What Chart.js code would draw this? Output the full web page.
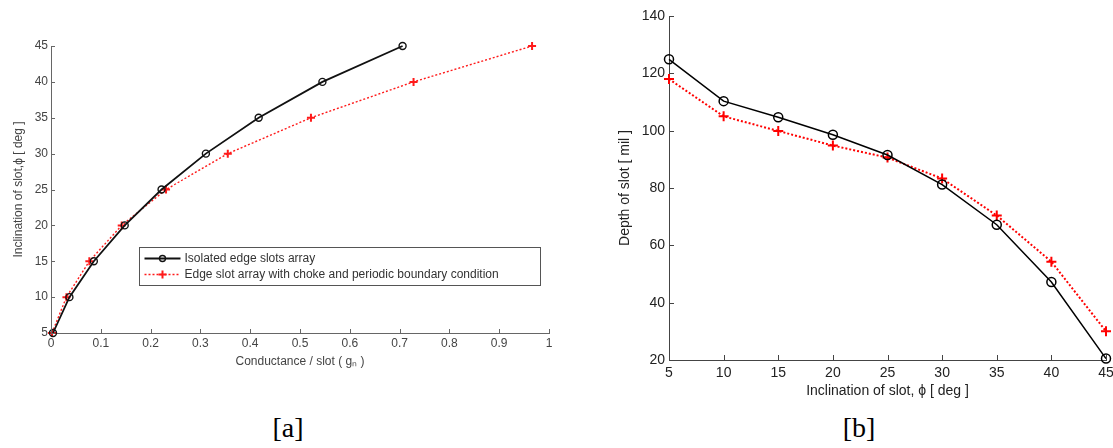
<!DOCTYPE html>
<html>
<head>
<meta charset="utf-8">
<script src="https://cdn.jsdelivr.net/npm/chart.js@4.4.1/dist/chart.umd.min.js"></script>
<style>
html, body { margin: 0; padding: 0; background: #fff; width: 1113px; height: 448px; overflow: hidden; }
#wrapA { position: absolute; left: 0; top: 0; width: 560px; height: 400px; }
#wrapB { position: absolute; left: 560px; top: 0; width: 553px; height: 400px; }
.cap { position: absolute; top: 414px; width: 60px; text-align: center; font-family: "Liberation Serif", "Times New Roman", serif; font-size: 28px; line-height: 28px; color: #000; }
</style>
</head>
<body>
<div id="wrapA"><canvas id="chartA" width="560" height="400"></canvas></div>
<div id="wrapB"><canvas id="chartB" width="553" height="400"></canvas></div>
<div class="cap" style="left:258px">[a]</div>
<div class="cap" style="left:829px">[b]</div>
<script>
// [a] conductance per slot vs inclination
var inclinationA = [5, 10, 15, 20, 25, 30, 35, 40, 45];
var conductanceIso = [0.004, 0.037, 0.086, 0.148, 0.222, 0.311, 0.417, 0.545, 0.706];
var conductanceChoke = [0.002, 0.031, 0.077, 0.142, 0.231, 0.355, 0.522, 0.728, 0.966];
var xTicksA = [0, 0.1, 0.2, 0.3, 0.4, 0.5, 0.6, 0.7, 0.8, 0.9, 1];
var yTicksA = [5, 10, 15, 20, 25, 30, 35, 40, 45];

// [b] depth of slot vs inclination
var inclinationB = [5, 10, 15, 20, 25, 30, 35, 40, 45];
var depthIso = [124.9, 110.3, 104.7, 98.6, 91.5, 81.2, 67.2, 47.2, 20.5];
var depthChoke = [118, 105, 99.9, 94.8, 90.6, 83.3, 70.4, 54.3, 30];
var xTicksB = [5, 10, 15, 20, 25, 30, 35, 40, 45];
var yTicksB = [20, 40, 60, 80, 100, 120, 140];

var labelIso = 'Isolated edge slots array';
var labelChoke = 'Edge slot array with choke and periodic boundary condition';

Chart.defaults.font.family = "'Liberation Sans', Arial, sans-serif";
Chart.defaults.animation = false;

function pts(xs, ys) {
    var out = [];
    for (var i = 0; i < xs.length; i++) out.push({x: xs[i], y: ys[i]});
    return out;
}

function setTicks(list) {
    return function(scale) {
        scale.ticks = list.map(function(v) { return {value: v}; });
    };
}

// MATLAB style ticks pointing into the plot
var inTicks = {
    id: 'inTicks',
    afterDraw: function(chart, args, opts) {
        var ctx = chart.ctx, a = chart.chartArea;
        var xs = chart.scales.x, ys = chart.scales.y;
        ctx.save();
        ctx.strokeStyle = opts.color;
        ctx.lineWidth = 1;
        ctx.beginPath();
        xs.ticks.forEach(function(t) {
            var p = Math.round(xs.getPixelForValue(t.value)) + 0.5;
            ctx.moveTo(p, a.bottom);
            ctx.lineTo(p, a.bottom - opts.len);
        });
        ys.ticks.forEach(function(t) {
            var p = Math.round(ys.getPixelForValue(t.value)) + 0.5;
            ctx.moveTo(a.left, p);
            ctx.lineTo(a.left + opts.len, p);
        });
        ctx.stroke();
        ctx.restore();
    }
};

// boxed legend inside chart [a]
var legendBox = {
    id: 'legendBox',
    afterDraw: function(chart) {
        if (chart.canvas.id !== 'chartA') return;
        var ctx = chart.ctx;
        var bx = 139.5, by = 247.5, bw = 401, bh = 38;
        ctx.save();
        ctx.strokeStyle = '#555';
        ctx.lineWidth = 1;
        ctx.strokeRect(bx, by, bw, bh);
        ctx.font = "12px 'Liberation Sans', Arial, sans-serif";
        ctx.textBaseline = 'middle';
        chart.data.datasets.forEach(function(ds, i) {
            var y = by + 11 + i * 16;
            ctx.strokeStyle = ds.borderColor;
            ctx.lineWidth = ds.borderWidth;
            ctx.setLineDash(ds.borderDash || []);
            ctx.beginPath();
            ctx.moveTo(bx + 5, y);
            ctx.lineTo(bx + 41, y);
            ctx.stroke();
            ctx.setLineDash([]);
            ctx.lineWidth = ds.pointBorderWidth;
            ctx.strokeStyle = ds.pointBorderColor;
            ctx.beginPath();
            if (ds.pointStyle === 'circle') {
                ctx.arc(bx + 23, y, 3, 0, Math.PI * 2);
            } else {
                ctx.moveTo(bx + 19, y); ctx.lineTo(bx + 27, y);
                ctx.moveTo(bx + 23, y - 4); ctx.lineTo(bx + 23, y + 4);
            }
            ctx.stroke();
            ctx.fillStyle = '#333';
            ctx.fillText(ds.label, bx + 45, y);
        });
        ctx.restore();
    }
};

function plainLabel(v) { return String(v); }

function axisX(min, max, list, title, o) {
    return {
        type: 'linear', min: min, max: max,
        afterBuildTicks: setTicks(list),
        afterFit: function(s) { s.height = o.h; s.paddingLeft = 0; s.paddingRight = 0; },
        grid: {display: false, drawTicks: false},
        border: {display: true, color: o.axis, width: 1},
        ticks: {color: o.text, padding: o.pad, font: {size: o.size}, maxRotation: 0, autoSkip: false, callback: plainLabel},
        title: {display: true, text: title, color: o.text, font: {size: o.size}, padding: {top: 0, bottom: o.tpad}}
    };
}

function axisY(min, max, list, title, o) {
    return {
        type: 'linear', min: min, max: max,
        afterBuildTicks: setTicks(list),
        afterFit: function(s) { s.width = o.w; s.paddingTop = 0; s.paddingBottom = 0; },
        grid: {display: false, drawTicks: false},
        border: {display: true, color: o.axis, width: 1},
        ticks: {color: o.text, padding: o.pad, font: {size: o.size}, autoSkip: false, callback: plainLabel},
        title: {display: true, text: title, color: o.text, font: {size: o.size}, padding: {top: o.tpad, bottom: 0}}
    };
}

new Chart(document.getElementById('chartA'), {
    type: 'scatter',
    data: {
        datasets: [{
            label: labelIso,
            data: pts(conductanceIso, inclinationA),
            showLine: true, tension: 0, clip: false,
            borderColor: '#111', borderWidth: 1.8,
            pointStyle: 'circle', pointRadius: 3.5, pointBorderWidth: 1.4,
            pointBorderColor: '#111', pointBackgroundColor: 'rgba(0,0,0,0)'
        }, {
            label: labelChoke,
            data: pts(conductanceChoke, inclinationA),
            showLine: true, tension: 0, clip: false,
            borderColor: '#ff1a1a', borderWidth: 1.4, borderDash: [2, 2],
            pointStyle: 'cross', pointRadius: 4, pointBorderWidth: 2,
            pointBorderColor: '#ff1a1a', pointBackgroundColor: '#ff1a1a'
        }]
    },
    options: {
        responsive: false,
        layout: {padding: {left: 0, top: 46, right: 11, bottom: 0}},
        plugins: {legend: {display: false}, tooltip: {enabled: false}, inTicks: {color: '#666', len: 4}},
        scales: {
            x: axisX(0, 1, xTicksA, 'Conductance / slot ( g\u2099 )', {h: 67, axis: '#666', text: '#444', pad: 3, size: 12, tpad: 31}),
            y: axisY(5, 45, yTicksA, 'Inclination of slot,\u03d5 [ deg ]', {w: 51, axis: '#666', text: '#444', pad: 3, size: 12, tpad: 11})
        }
    },
    plugins: [inTicks, legendBox]
});

new Chart(document.getElementById('chartB'), {
    type: 'scatter',
    data: {
        datasets: [{
            label: labelIso,
            data: pts(inclinationB, depthIso),
            showLine: true, tension: 0, clip: false,
            borderColor: '#000', borderWidth: 1.5,
            pointStyle: 'circle', pointRadius: 4.5, pointBorderWidth: 1.5,
            pointBorderColor: '#000', pointBackgroundColor: 'rgba(0,0,0,0)'
        }, {
            label: labelChoke,
            data: pts(inclinationB, depthChoke),
            showLine: true, tension: 0, clip: false,
            borderColor: '#ff0000', borderWidth: 2, borderDash: [2, 2],
            pointStyle: 'cross', pointRadius: 5, pointBorderWidth: 2,
            pointBorderColor: '#ff0000', pointBackgroundColor: '#ff0000'
        }]
    },
    options: {
        responsive: false,
        layout: {padding: {left: 0, top: 16, right: 6, bottom: 0}},
        plugins: {legend: {display: false}, tooltip: {enabled: false}, inTicks: {color: '#444', len: 5}},
        scales: {
            x: axisX(5, 45, xTicksB, 'Inclination of slot, \u03d5 [ deg ]', {h: 40, axis: '#444', text: '#222', pad: 5, size: 14, tpad: 0}),
            y: axisY(20, 140, yTicksB, 'Depth of slot [ mil ]', {w: 109, axis: '#444', text: '#222', pad: 4, size: 14, tpad: 57})
        }
    },
    plugins: [inTicks]
});
</script>
</body>
</html>
